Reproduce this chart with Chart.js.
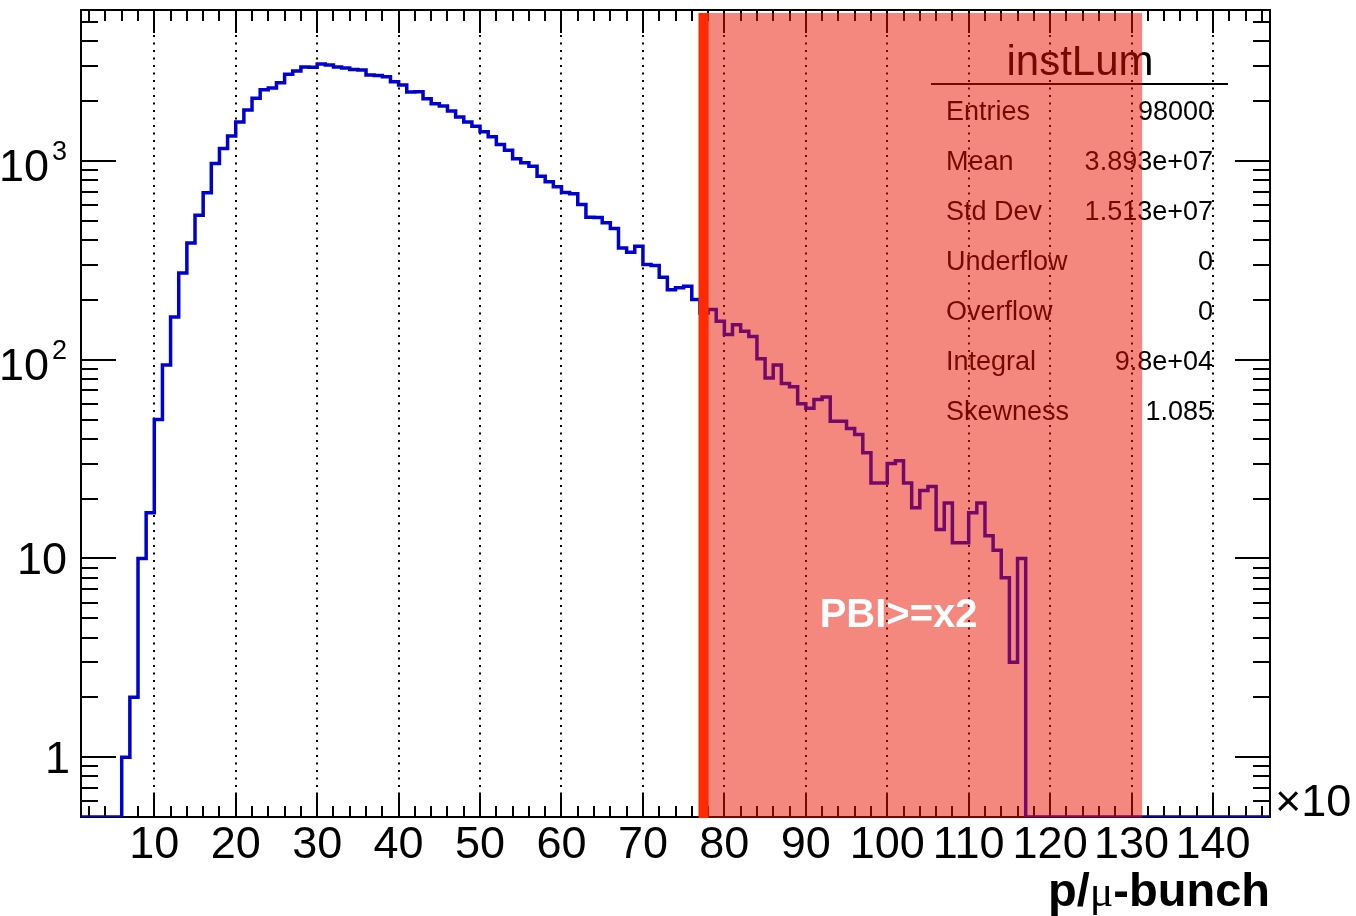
<!DOCTYPE html>
<html>
<head>
<meta charset="utf-8">
<script src="https://cdn.jsdelivr.net/npm/chart.js@4.4.1/dist/chart.umd.min.js"></script>
<style>
  html, body { margin: 0; padding: 0; background: #fff; }
  #wrap { width: 1356px; height: 916px; }
</style>
</head>
<body>
<div id="wrap"><canvas id="histo" width="1356" height="916"></canvas></div>
<script>
'use strict';

// axis ranges (x in units of 10^6 p/bunch, 1-unit bins)
const X_MIN = 1, X_MAX = 147;
const Y_MIN = 0.5, Y_MAX = 5750;

// first filled bin low edge; bins outside are empty
const FIRST_BIN = 6;
const counts = [
    1, 2, 10, 17, 50, 94, 164, 273, 387, 533,            // 6-15
    691, 971, 1156, 1334, 1569, 1803, 2071, 2280, 2330, 2477, // 16-25
    2729, 2834, 2970, 2960, 3080, 3040, 2970, 2940, 2890, 2870, // 26-35
    2706, 2690, 2655, 2506, 2410, 2222, 2230, 2057, 1942, 1888, // 36-45
    1782, 1663, 1569, 1497, 1403, 1324, 1211, 1133, 1026, 979,  // 46-55
    942, 838, 785, 741, 695, 685, 604, 521, 519, 489,      // 56-65
    457, 365, 347, 372, 301, 298, 260, 225, 230, 234,      // 66-75
    201, 172, 179, 156, 134, 150, 139, 131, 101, 81,       // 76-85
    94, 76, 73, 60, 57, 63, 65, 49, 49, 45,                // 86-95
    42, 34, 24, 24, 30, 31, 24, 18, 22, 23,                // 96-105
    14, 19, 12, 12, 17, 19, 13, 11, 8, 3,                  // 106-115
    10                                                     // 116
];

const xTickLabels = [10, 20, 30, 40, 50, 60, 70, 80, 90, 100, 110, 120, 130, 140];
const yTickValues = [1, 10, 100, 1000];

const HIST_TITLE = 'instLum';
const statNames = ['Entries', 'Mean', 'Std Dev', 'Underflow', 'Overflow', 'Integral', 'Skewness'];
const statValues = ['98000', '3.893e+07', '1.513e+07', '0', '0', '9.8e+04', '1.085'];

const CUT_X = 77.45;
const BAND_RANGE = [76.85, 131.3];
const BAND_LABEL = 'PBI>=x2';
const BAND_LABEL_POS = [91.7, 4.5];

const FONT = '"Liberation Sans", Arial, Helvetica, sans-serif';
const LABEL_FONT = '45px ' + FONT;

// histogram as step line: one point per bin low edge, empty bins sit on the axis floor
const points = [];
for (let e = X_MIN; e < FIRST_BIN; e++) points.push({ x: e, y: Y_MIN });
counts.forEach(function(c, i) { points.push({ x: FIRST_BIN + i, y: c > 0 ? c : Y_MIN }); });
for (let e = FIRST_BIN + counts.length; e <= X_MAX; e++) points.push({ x: e, y: Y_MIN });

const rootStyle = {
    id: 'rootStyle',
    beforeDatasetsDraw: function(chart) {
        const ctx = chart.ctx, a = chart.chartArea;
        const xs = chart.scales.x, ys = chart.scales.y;
        ctx.save();
        ctx.strokeStyle = '#000';
        ctx.fillStyle = '#000';

        // dotted vertical grid
        ctx.lineWidth = 2;
        ctx.setLineDash([2, 5.5]);
        xTickLabels.forEach(function(v) {
            const px = Math.round(xs.getPixelForValue(v));
            ctx.beginPath();
            ctx.moveTo(px, a.bottom);
            ctx.lineTo(px, a.top);
            ctx.stroke();
        });
        ctx.setLineDash([]);

        // frame
        ctx.strokeRect(a.left, a.top, a.right - a.left, a.bottom - a.top);

        // x ticks, bottom and top, pointing inward
        for (let v = 2; v < X_MAX; v += 2) {
            const px = Math.round(xs.getPixelForValue(v));
            const len = (v % 10 === 0) ? 23 : 11;
            ctx.beginPath();
            ctx.moveTo(px, a.bottom); ctx.lineTo(px, a.bottom - len);
            ctx.moveTo(px, a.top); ctx.lineTo(px, a.top + len);
            ctx.stroke();
        }

        // y ticks, left and right
        for (let d = -1; d <= 3; d++) {
            for (let m = 1; m <= 9; m++) {
                const v = m * Math.pow(10, d);
                if (v < Y_MIN || v > Y_MAX) continue;
                const py = Math.round(ys.getPixelForValue(v));
                const len = (m === 1) ? 35 : 17;
                ctx.beginPath();
                ctx.moveTo(a.left, py); ctx.lineTo(a.left + len, py);
                ctx.moveTo(a.right, py); ctx.lineTo(a.right - len, py);
                ctx.stroke();
            }
        }

        // x labels
        ctx.font = LABEL_FONT;
        ctx.textAlign = 'center';
        ctx.textBaseline = 'alphabetic';
        xTickLabels.forEach(function(v) {
            ctx.fillText(String(v), xs.getPixelForValue(v), a.bottom + 41);
        });
        ctx.textAlign = 'left';
        ctx.fillText('\u00d710', a.right + 5, a.bottom - 1);

        // y labels, right edge of ink at yRight
        const yRight = 66;
        ctx.textAlign = 'left';
        yTickValues.forEach(function(v) {
            const py = ys.getPixelForValue(v);
            const exp = Math.round(Math.log10(v));
            if (exp >= 2) {
                ctx.font = '27px ' + FONT;
                const sm = ctx.measureText(String(exp));
                ctx.fillText(String(exp), yRight - sm.actualBoundingBoxRight, py - 0.5);
                ctx.font = LABEL_FONT;
                const m = ctx.measureText('10');
                ctx.fillText('10', yRight - 18 - m.actualBoundingBoxRight, py + 20);
            } else {
                ctx.font = LABEL_FONT;
                const m = ctx.measureText(String(v));
                ctx.fillText(String(v), yRight + (v === 1 ? 2 : 0) - m.actualBoundingBoxRight, py + 16);
            }
        });

        // x title, right aligned: bold "p/", greek mu, bold "-bunch"
        ctx.textAlign = 'right';
        const parts = [
            { t: '-bunch', f: 'bold 47px ' + FONT },
            { t: '\u03bc', f: '44px "Liberation Serif", "DejaVu Serif", serif' },
            { t: 'p/', f: 'bold 47px ' + FONT }
        ];
        let xr = a.right;
        parts.forEach(function(p) {
            ctx.font = p.f;
            ctx.fillText(p.t, xr, 906);
            xr -= ctx.measureText(p.t).width;
        });
        ctx.restore();
    },
    afterDatasetsDraw: function(chart) {
        const ctx = chart.ctx, a = chart.chartArea;
        const xs = chart.scales.x, ys = chart.scales.y;
        ctx.save();

        // stats box (no border, transparent)
        ctx.fillStyle = '#000';
        ctx.strokeStyle = '#000';
        ctx.textBaseline = 'alphabetic';
        ctx.font = '42px ' + FONT;
        ctx.textAlign = 'center';
        ctx.fillText(HIST_TITLE, 1080, 75);
        ctx.lineWidth = 2;
        ctx.beginPath();
        ctx.moveTo(931, 84); ctx.lineTo(1228, 84);
        ctx.stroke();
        ctx.font = '27px ' + FONT;
        statNames.forEach(function(name, i) {
            const by = 119.5 + i * 50.1;
            ctx.textAlign = 'left';
            ctx.fillText(name, 946, by);
            ctx.textAlign = 'right';
            ctx.fillText(statValues[i], 1213, by);
        });

        // translucent selection band over everything
        const bx0 = xs.getPixelForValue(BAND_RANGE[0]);
        const bx1 = xs.getPixelForValue(BAND_RANGE[1]);
        ctx.fillStyle = 'rgba(233, 17, 0, 0.5)';
        ctx.fillRect(bx0, a.top + 3, bx1 - bx0, a.bottom - a.top - 2);

        // cut line
        const cx = xs.getPixelForValue(CUT_X);
        ctx.strokeStyle = '#ff2a00';
        ctx.lineWidth = 10;
        ctx.beginPath();
        ctx.moveTo(cx, a.top + 3);
        ctx.lineTo(cx, a.bottom + 1);
        ctx.stroke();

        // band label
        ctx.fillStyle = '#ffffff';
        ctx.font = 'bold 40px ' + FONT;
        ctx.textAlign = 'left';
        ctx.fillText(BAND_LABEL, xs.getPixelForValue(BAND_LABEL_POS[0]), ys.getPixelForValue(BAND_LABEL_POS[1]));
        ctx.restore();
    }
};

new Chart(document.getElementById('histo'), {
    type: 'line',
    data: {
        datasets: [{
            label: HIST_TITLE,
            data: points,
            stepped: true,
            borderColor: '#0000d0',
            borderWidth: 3.5,
            borderJoinStyle: 'miter',
            pointRadius: 0,
            fill: false,
            tension: 0
        }]
    },
    options: {
        responsive: false,
        animation: false,
        devicePixelRatio: 1,
        layout: { padding: { left: 81, right: 86, top: 10, bottom: 99 } },
        plugins: {
            legend: { display: false },
            tooltip: { enabled: false }
        },
        scales: {
            x: { type: 'linear', min: X_MIN, max: X_MAX, display: false },
            y: { type: 'logarithmic', min: Y_MIN, max: Y_MAX, display: false }
        }
    },
    plugins: [rootStyle]
});
</script>
</body>
</html>
